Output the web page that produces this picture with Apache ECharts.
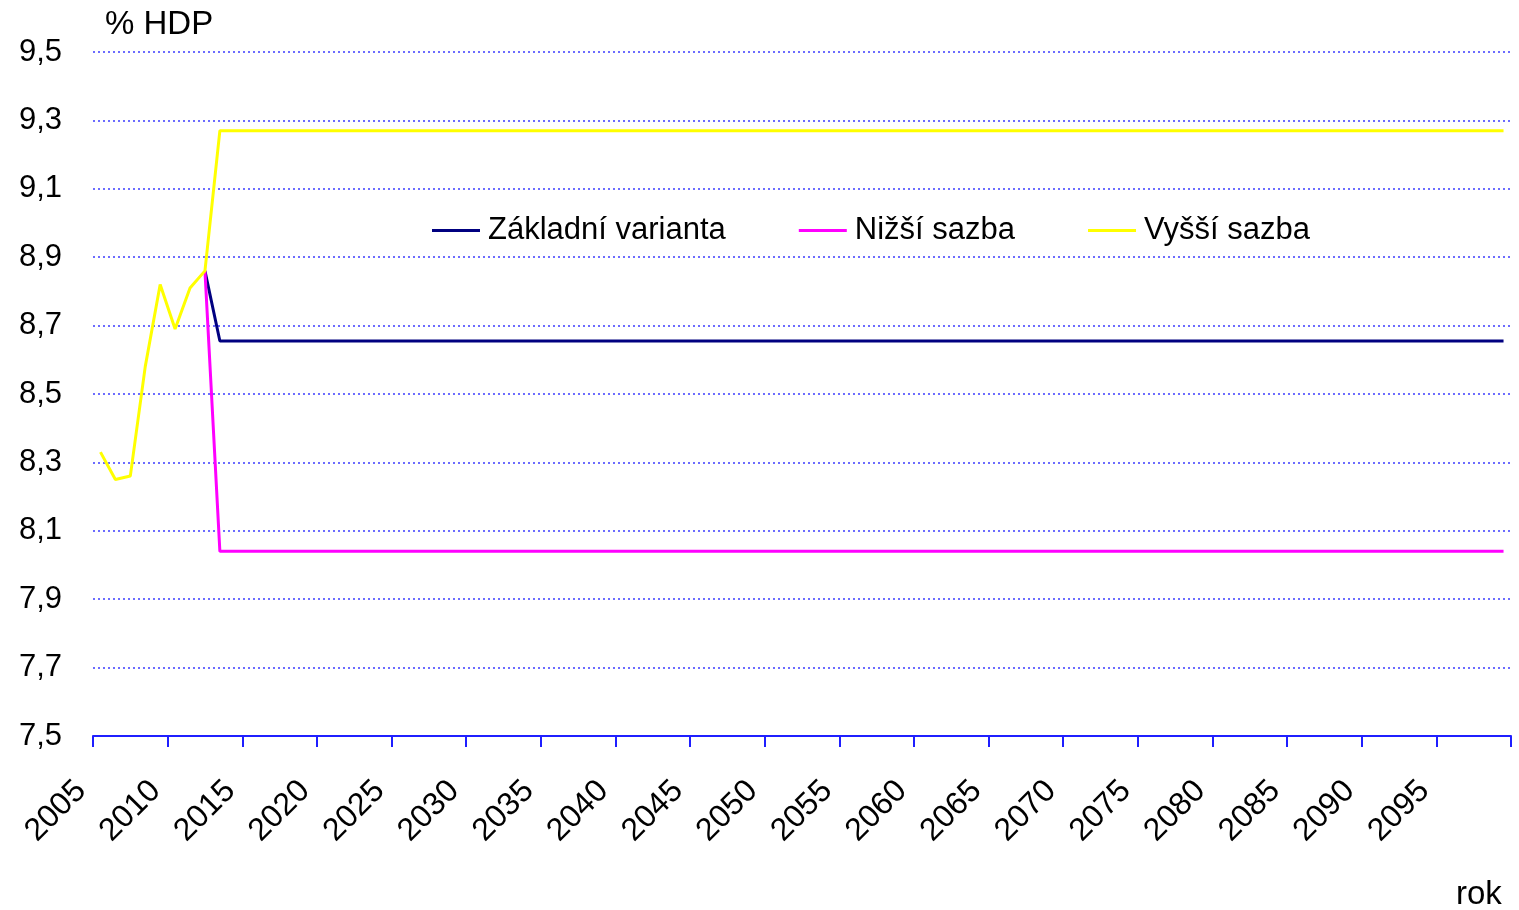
<!DOCTYPE html>
<html>
<head>
<meta charset="utf-8">
<script src="https://cdn.jsdelivr.net/npm/echarts@6/dist/echarts.min.js"></script>
<style>
  html, body { margin: 0; padding: 0; background: #fff; }
  #chart { width: 1519px; height: 910px; }
</style>
</head>
<body>
<div id="chart"></div>
<script>
const years = [
  '2005', '2006', '2007', '2008', '2009', '2010', '2011', '2012', '2013', '2014',
  '2015', '2016', '2017', '2018', '2019', '2020', '2021', '2022', '2023', '2024',
  '2025', '2026', '2027', '2028', '2029', '2030', '2031', '2032', '2033', '2034',
  '2035', '2036', '2037', '2038', '2039', '2040', '2041', '2042', '2043', '2044',
  '2045', '2046', '2047', '2048', '2049', '2050', '2051', '2052', '2053', '2054',
  '2055', '2056', '2057', '2058', '2059', '2060', '2061', '2062', '2063', '2064',
  '2065', '2066', '2067', '2068', '2069', '2070', '2071', '2072', '2073', '2074',
  '2075', '2076', '2077', '2078', '2079', '2080', '2081', '2082', '2083', '2084',
  '2085', '2086', '2087', '2088', '2089', '2090', '2091', '2092', '2093', '2094',
  '2095', '2096', '2097', '2098', '2099'
];

// Základní varianta
const zakladni = [
  null, null, null, null, null, null, null, 8.86, 8.655, 8.655,
  8.655, 8.655, 8.655, 8.655, 8.655, 8.655, 8.655, 8.655, 8.655, 8.655,
  8.655, 8.655, 8.655, 8.655, 8.655, 8.655, 8.655, 8.655, 8.655, 8.655,
  8.655, 8.655, 8.655, 8.655, 8.655, 8.655, 8.655, 8.655, 8.655, 8.655,
  8.655, 8.655, 8.655, 8.655, 8.655, 8.655, 8.655, 8.655, 8.655, 8.655,
  8.655, 8.655, 8.655, 8.655, 8.655, 8.655, 8.655, 8.655, 8.655, 8.655,
  8.655, 8.655, 8.655, 8.655, 8.655, 8.655, 8.655, 8.655, 8.655, 8.655,
  8.655, 8.655, 8.655, 8.655, 8.655, 8.655, 8.655, 8.655, 8.655, 8.655,
  8.655, 8.655, 8.655, 8.655, 8.655, 8.655, 8.655, 8.655, 8.655, 8.655,
  8.655, 8.655, 8.655, 8.655, 8.655
];

// Nižší sazba
const nizsi = [
  null, null, null, null, null, null, null, 8.86, 8.04, 8.04,
  8.04, 8.04, 8.04, 8.04, 8.04, 8.04, 8.04, 8.04, 8.04, 8.04,
  8.04, 8.04, 8.04, 8.04, 8.04, 8.04, 8.04, 8.04, 8.04, 8.04,
  8.04, 8.04, 8.04, 8.04, 8.04, 8.04, 8.04, 8.04, 8.04, 8.04,
  8.04, 8.04, 8.04, 8.04, 8.04, 8.04, 8.04, 8.04, 8.04, 8.04,
  8.04, 8.04, 8.04, 8.04, 8.04, 8.04, 8.04, 8.04, 8.04, 8.04,
  8.04, 8.04, 8.04, 8.04, 8.04, 8.04, 8.04, 8.04, 8.04, 8.04,
  8.04, 8.04, 8.04, 8.04, 8.04, 8.04, 8.04, 8.04, 8.04, 8.04,
  8.04, 8.04, 8.04, 8.04, 8.04, 8.04, 8.04, 8.04, 8.04, 8.04,
  8.04, 8.04, 8.04, 8.04, 8.04
];

// Vyšší sazba
const vyssi = [
  8.33, 8.25, 8.26, 8.58, 8.82, 8.69, 8.81, 8.86, 9.27, 9.27,
  9.27, 9.27, 9.27, 9.27, 9.27, 9.27, 9.27, 9.27, 9.27, 9.27,
  9.27, 9.27, 9.27, 9.27, 9.27, 9.27, 9.27, 9.27, 9.27, 9.27,
  9.27, 9.27, 9.27, 9.27, 9.27, 9.27, 9.27, 9.27, 9.27, 9.27,
  9.27, 9.27, 9.27, 9.27, 9.27, 9.27, 9.27, 9.27, 9.27, 9.27,
  9.27, 9.27, 9.27, 9.27, 9.27, 9.27, 9.27, 9.27, 9.27, 9.27,
  9.27, 9.27, 9.27, 9.27, 9.27, 9.27, 9.27, 9.27, 9.27, 9.27,
  9.27, 9.27, 9.27, 9.27, 9.27, 9.27, 9.27, 9.27, 9.27, 9.27,
  9.27, 9.27, 9.27, 9.27, 9.27, 9.27, 9.27, 9.27, 9.27, 9.27,
  9.27, 9.27, 9.27, 9.27, 9.27
];

const seriesNames = ['Základní varianta', 'Nižší sazba', 'Vyšší sazba'];
const seriesColors = ['#000080', '#ff00ff', '#ffff00'];

// year ticks sit on the category boundaries: 2005 .. 2100 every 5 years
const YEAR_FIRST = 2005;
const YEAR_END = 2100;
const YEAR_STEP = 5;

// y axis runs 7,5 .. 9,5 by 0,2 -> plot relative to the base so ticks start at 7,5
const Y_BASE = 7.5;
const Y_TOP = 9.5;
const Y_STEP = 0.2;

const FONT = "'Liberation Sans', Arial, sans-serif";
const AXIS_BLUE = '#1f1fff';
const shift = (arr) => arr.map((v) => (v == null ? null : +(v - Y_BASE).toFixed(4)));

const chart = echarts.init(document.getElementById('chart'));
chart.setOption({
  animation: false,
  backgroundColor: '#ffffff',
  textStyle: { fontFamily: FONT, color: '#000' },
  grid: { left: 93, right: 8, top: 52, bottom: 174 },
  legend: {
    left: 432,
    top: 215,
    padding: 0,
    itemGap: 73,
    itemWidth: 48,
    itemHeight: 3,
    icon: 'rect',
    data: seriesNames,
    textStyle: { fontFamily: FONT, fontSize: 31, color: '#000', padding: [0, 0, 0, 3] }
  },
  xAxis: [
    {
      // data axis: one band per year
      type: 'category',
      data: years,
      boundaryGap: true,
      axisLine: { show: false },
      axisTick: { show: false },
      axisLabel: { show: false },
      splitLine: { show: false }
    },
    {
      // year scale drawn on the band edges
      type: 'value',
      position: 'bottom',
      min: YEAR_FIRST,
      max: YEAR_END,
      interval: YEAR_STEP,
      axisLine: { show: true, lineStyle: { color: AXIS_BLUE, width: 2 } },
      axisTick: { show: true, length: 11, lineStyle: { color: AXIS_BLUE, width: 2 } },
      axisLabel: {
        rotate: 45,
        margin: 38,
        padding: [0, 17, 0, 0],
        fontFamily: FONT,
        fontSize: 32,
        color: '#000',
        formatter: (v) => (v >= YEAR_END ? '' : String(v))
      },
      splitLine: { show: false }
    }
  ],
  yAxis: {
    type: 'value',
    min: 0,
    max: Y_TOP - Y_BASE,
    interval: Y_STEP,
    axisLine: { show: false },
    axisTick: { show: false },
    axisLabel: {
      margin: 31,
      fontFamily: FONT,
      fontSize: 31,
      color: '#000',
      formatter: (v) => (v + Y_BASE).toFixed(1).replace('.', ',')
    },
    splitLine: { lineStyle: { color: '#3c3cff', width: 1.5, type: [2, 3] } }
  },
  graphic: [
    { type: 'text', left: 105, top: 8, style: { text: '% HDP', font: '33px ' + FONT, fill: '#000' } },
    { type: 'text', left: 1456, top: 878, style: { text: 'rok', font: '33px ' + FONT, fill: '#000' } }
  ],
  series: [
    { name: seriesNames[0], type: 'line', xAxisIndex: 0, data: shift(zakladni), showSymbol: false, color: seriesColors[0], lineStyle: { width: 3 } },
    { name: seriesNames[1], type: 'line', xAxisIndex: 0, data: shift(nizsi), showSymbol: false, color: seriesColors[1], lineStyle: { width: 3 } },
    { name: seriesNames[2], type: 'line', xAxisIndex: 0, data: shift(vyssi), showSymbol: false, color: seriesColors[2], lineStyle: { width: 3 } }
  ]
});
</script>
</body>
</html>
